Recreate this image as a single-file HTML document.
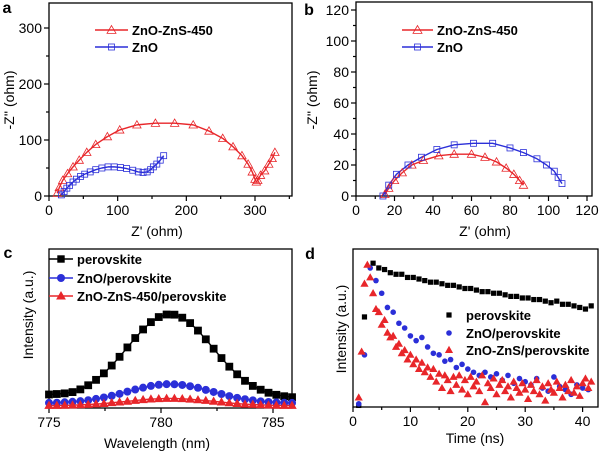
<!DOCTYPE html>
<html><head><meta charset="utf-8"><style>
html,body{margin:0;padding:0;background:#fff;}
svg{display:block;font-family:"Liberation Sans",Arial,sans-serif;}
</style></head><body>
<svg id="fig" width="600" height="452" viewBox="0 0 600 452" xmlns="http://www.w3.org/2000/svg"></svg>
<script>
// ---------- panel a data ----------
const aRedX=[12,15,20,27,35,44,55,68,85,103,128,155,183,210,233,253,268,281,290,296,300,302,304,308,314,320,325,329];
const aRedY=[5,15,28,40,52,64,78,92,106,118,127,130,130,127,116,103,88,72,57,43,30,25,28,37,45,57,67,78];
const aBlueX=[18,22,26,30,35,40,46,52,60,68,77,86,95,104,113,122,130,137,143,148,152,157,162,167];
const aBlueY=[2,8,14,19,25,30,35,39,43,47,50,52,52,51,49,46,43,42,43,47,52,57,64,72];
const aXTicks=[0,100,200,300];
const aYTicks=[0,100,200,300];
// ---------- panel b data ----------
const bRedX=[15,17,20,24,29,35,43,51,60,67,73,78,82,85,87];
const bRedY=[1,5,10,15,20,23,26,27,27,25,22,18,14,10,7];
const bBlueX=[14,17,21,27,34,42,51,61,71,80,87,94,99,103,105,107];
const bBlueY=[0,7,14,20,25,30,33,34,34,31,28,24,20,16,12,8];
const bXTicks=[0,20,40,60,80,100,120];
const bYTicks=[0,20,40,60,80,100,120];
// ---------- panel c data ----------
const cWave=[775.00,775.35,775.70,776.05,776.40,776.75,777.10,777.45,777.80,778.15,778.50,778.85,779.20,779.55,779.90,780.25,780.60,780.95,781.30,781.65,782.00,782.35,782.70,783.05,783.40,783.75,784.10,784.45,784.80,785.15,785.50,785.85];
const cBlack=[0.085,0.088,0.092,0.100,0.117,0.143,0.177,0.218,0.267,0.322,0.381,0.440,0.494,0.540,0.572,0.588,0.587,0.568,0.534,0.487,0.432,0.373,0.314,0.260,0.212,0.171,0.139,0.115,0.096,0.083,0.074,0.068];
const cBlue=[0.032,0.033,0.036,0.039,0.043,0.049,0.057,0.066,0.077,0.089,0.103,0.116,0.128,0.139,0.146,0.150,0.149,0.145,0.137,0.127,0.114,0.101,0.088,0.075,0.064,0.055,0.048,0.042,0.038,0.035,0.033,0.032];
const cRed=[0.016,0.016,0.017,0.018,0.020,0.022,0.025,0.028,0.033,0.037,0.042,0.047,0.052,0.056,0.058,0.060,0.060,0.058,0.055,0.051,0.047,0.042,0.037,0.032,0.028,0.024,0.022,0.020,0.018,0.017,0.016,0.016];
const cXTicks=[775,780,785];
// ---------- panel d data ----------
const dBlackT=[1,2,3.5,4.5,5.5,6.5,7.5,8.5,9.5,10.5,11.5,12.5,13.5,14.5,15.5,16.5,17.5,18.5,19.5,20.5,21.5,22.5,23.5,24.5,25.5,26.5,27.5,28.5,29.5,30.5,31.5,32.5,33.5,34.5,35.5,36.5,37.5,38.5,39.5,40.5,41.5];
const dBlack=[0.01,0.57,0.91,0.88,0.87,0.85,0.84,0.84,0.82,0.82,0.81,0.80,0.79,0.79,0.78,0.77,0.77,0.76,0.75,0.75,0.74,0.73,0.73,0.72,0.72,0.71,0.70,0.70,0.69,0.69,0.68,0.68,0.67,0.66,0.67,0.65,0.65,0.64,0.63,0.62,0.64];
const dBlueT=[1,2,3,4,5,6,7,8,9,10,11,12,13,14,15,16,17,18,19,20,21,22,23,24,25,26,27,28,29,30,31,32,33,34,35,36,37,38,39,40,41];
const dBlue=[0.02,0.33,0.88,0.80,0.72,0.63,0.60,0.53,0.50,0.45,0.42,0.44,0.38,0.34,0.33,0.29,0.30,0.25,0.27,0.24,0.22,0.20,0.22,0.19,0.21,0.17,0.20,0.15,0.18,0.16,0.14,0.18,0.12,0.10,0.19,0.13,0.11,0.08,0.14,0.12,0.11];
const dRedT=[1,1.5,2,2.5,3,3.5,4,4.5,5,5.5,6,6.5,7,7.5,8,8.5,9,9.5,10,10.5,11,11.5,12,12.5,13,13.5,14,14.5,15,15.5,16,16.5,17,17.5,18,18.5,19,19.5,20,20.5,21,21.5,22,22.5,23,23.5,24,24.5,25,25.5,26,26.5,27,27.5,28,28.5,29,29.5,30,30.5,31,31.5,32,32.5,33,33.5,34,34.5,35,35.5,36,36.5,37,37.5,38,38.5,39,39.5,40,40.5,41,41.5];
const dRed=[0.06,0.35,0.78,0.90,0.82,0.72,0.62,0.60,0.52,0.55,0.47,0.44,0.45,0.38,0.40,0.34,0.36,0.30,0.33,0.27,0.30,0.24,0.28,0.22,0.25,0.19,0.24,0.16,0.21,0.12,0.20,0.17,0.10,0.19,0.14,0.20,0.11,0.17,0.08,0.19,0.13,0.16,0.10,0.20,0.03,0.15,0.12,0.18,0.08,0.14,0.17,0.10,0.13,0.06,0.16,0.12,0.09,0.15,0.11,0.05,0.14,0.10,0.17,0.08,0.13,0.04,0.15,0.11,0.09,0.16,0.12,0.06,0.14,0.10,0.17,0.09,0.13,0.07,0.15,0.18,0.12,0.16];
const dXTicks=[0,10,20,30,40];

const NS="http://www.w3.org/2000/svg";
const svg=document.getElementById('fig');
function el(tag,attrs,parent,txt){const e=document.createElementNS(NS,tag);for(const k in attrs)e.setAttribute(k,attrs[k]);if(txt!==undefined)e.textContent=txt;(parent||svg).appendChild(e);return e;}
function scale(d0,d1,r0,r1){return v=>r0+(v-d0)/(d1-d0)*(r1-r0);}
const RED="#e8262a",BLUE="#2b2fd8";

function marker(g,type,x,y,s,color,fill){
  let m;
  if(type==='tri'){m=el('polygon',{points:`${x},${y-s} ${x-s},${y+s*0.75} ${x+s},${y+s*0.75}`,fill:fill||'none',stroke:color,'stroke-width':0.8},g);}
  else if(type==='sq'){m=el('rect',{x:x-s,y:y-s,width:2*s,height:2*s,fill:fill||'none',stroke:color,'stroke-width':0.8},g);}
  else {m=el('circle',{cx:x,cy:y,r:s,fill:fill,stroke:'none'},g);}
  
  
  return m;
}
function frame(name,x0,y0,x1,y1){
  const g=el('g',{});
  
  
  const r=el('rect',{x:x0,y:y0,width:x1-x0,height:y1-y0,fill:'none',stroke:'#000','stroke-width':1.3},g);
  
  
  return g;
}
function xTicks(g,ticks,sx,yb,minors,fmt){
  ticks.forEach(t=>{el('line',{x1:sx(t),x2:sx(t),y1:yb,y2:yb+5,stroke:'#000','stroke-width':1.2},g);
    const tx=el('text',{x:sx(t),y:yb+19,'text-anchor':'middle','font-size':14},g,fmt?fmt(t):t);
    
    });
  minors.forEach(t=>el('line',{x1:sx(t),x2:sx(t),y1:yb,y2:yb+3,stroke:'#000','stroke-width':1.2},g));
}
function yTicks(g,ticks,sy,xl,minors){
  ticks.forEach(t=>{el('line',{x1:xl-5,x2:xl,y1:sy(t),y2:sy(t),stroke:'#000','stroke-width':1.2},g);
    const tx=el('text',{x:xl-7,y:sy(t)+5,'text-anchor':'end','font-size':14},g,t);
    
    });
  minors.forEach(t=>el('line',{x1:xl-3,x2:xl,y1:sy(t),y2:sy(t),stroke:'#000','stroke-width':1.2},g));
}
function label(txt,x,y,rot,name,size,bold){
  const t=el('text',{x:x,y:y,'text-anchor':'middle','font-size':size||14,'font-weight':bold?'bold':'normal',transform:rot?`rotate(-90 ${x} ${y})`:''},svg,txt);
  
  
  return t;
}
function line(g,xs,ys,sx,sy,color,w,name){
  const p=el('polyline',{points:xs.map((x,i)=>sx(x)+','+sy(ys[i])).join(' '),fill:'none',stroke:color,'stroke-width':w||1.4,'stroke-linejoin':'round'},g);
  
  
}
function legendLine(g,x0,x1,y,color,type,text,fill,s){
  const lg=el('g',{},g);
  
  
  el('line',{x1:x0,x2:x1,y1:y,y2:y,stroke:color,'stroke-width':1.6},lg);
  marker(lg,type,(x0+x1)/2,y,s||4.5,color,fill);
  el('text',{x:x1+4,y:y+5,'font-size':13,'font-weight':'bold'},lg,text);
}

// ===== Panel a =====
(function(){
  const x0=49,x1=292,y0=3,y1=196;
  const sx=scale(0,300,49,255), sy=scale(0,300,196,28);
  const g=frame('panel-a',x0,y0,x1,y1);
  xTicks(g,aXTicks,sx,y1,[50,150,250,350]);
  yTicks(g,aYTicks,sy,x0,[50,150,250]);
  line(g,aRedX,aRedY,sx,sy,RED,1.4,'zno-zns-fit-line');
  line(g,aBlueX,aBlueY,sx,sy,BLUE,1.4,'zno-fit-line');
  aRedX.forEach((v,i)=>marker(g,'tri',sx(v),sy(aRedY[i]),4.2,RED));
  aBlueX.forEach((v,i)=>marker(g,'sq',sx(v),sy(aBlueY[i]),3,BLUE));
  legendLine(g,95,128,30,RED,'tri','ZnO-ZnS-450');
  legendLine(g,95,128,47,BLUE,'sq','ZnO',null,3);
  label('a',7,13,false,'panel-label-a',16,true);
  label("-Z'' (ohm)",14,100,true,'y-axis-title-a');
  label("Z' (ohm)",157,236,false,'x-axis-title-a');
})();
// ===== Panel b =====
(function(){
  const x0=356,x1=592,y0=2,y1=196;
  const sx=scale(0,120,356,587), sy=scale(0,120,196,10);
  const g=frame('panel-b',x0,y0,x1,y1);
  xTicks(g,bXTicks,sx,y1,[10,30,50,70,90,110]);
  yTicks(g,bYTicks,sy,x0,[10,30,50,70,90,110]);
  line(g,bRedX,bRedY,sx,sy,RED,1.4,'zno-zns-fit-line');
  line(g,bBlueX,bBlueY,sx,sy,BLUE,1.4,'zno-fit-line');
  bRedX.forEach((v,i)=>marker(g,'tri',sx(v),sy(bRedY[i]),4.2,RED));
  bBlueX.forEach((v,i)=>marker(g,'sq',sx(v),sy(bBlueY[i]),3,BLUE));
  legendLine(g,402,433,30,RED,'tri','ZnO-ZnS-450');
  legendLine(g,402,433,47,BLUE,'sq','ZnO',null,3);
  label('b',309,15,false,'panel-label-b',16,true);
  label("-Z'' (ohm)",317,100,true,'y-axis-title-b');
  label("Z' (ohm)",485,236,false,'x-axis-title-b');
})();
// ===== Panel c =====
(function(){
  const x0=49,x1=292,y0=249,y1=408;
  const sx=scale(775,780,49,161), sy=scale(0,1,408,249);
  const g=frame('panel-c',x0,y0,x1,y1);
  xTicks(g,cXTicks,sx,y1,[777.5,782.5]);
  line(g,cWave,cRed,sx,sy,RED,1.4,'zno-zns-perovskite-line');
  line(g,cWave,cBlue,sx,sy,BLUE,1.4,'zno-perovskite-line');
  line(g,cWave,cBlack,sx,sy,'#000',1.4,'perovskite-line');
  cWave.forEach((v,i)=>marker(g,'sq',sx(v),sy(cBlack[i]),3.5,'#000','#000'));
  cWave.forEach((v,i)=>marker(g,'circ',sx(v),sy(cBlue[i]),4,BLUE,BLUE));
  cWave.forEach((v,i)=>marker(g,'tri',sx(v),sy(cRed[i]),4,RED,RED));
  legendLine(g,49,73,259,'#000','sq','perovskite','#000',3.3);
  legendLine(g,49,73,278,BLUE,'circ','ZnO/perovskite',BLUE,4);
  legendLine(g,49,73,296,RED,'tri','ZnO-ZnS-450/perovskite',RED,4.2);
  label('c',8,258,false,'panel-label-c',16,true);
  label('Intensity (a.u.)',33,315,true,'y-axis-title-c');
  label('Wavelength (nm)',157,448,false,'x-axis-title-c');
})();
// ===== Panel d =====
(function(){
  const x0=353,x1=598,y0=249,y1=407;
  const sx=scale(0,10,353,410.4), sy=scale(0,1,407,249);
  const g=frame('panel-d',x0,y0,x1,y1);
  xTicks(g,dXTicks,sx,y1,[5,15,25,35]);
  dBlackT.forEach((v,i)=>marker(g,'sq',sx(v),sy(dBlack[i]),2.2,'#000','#000'));
  dBlueT.forEach((v,i)=>marker(g,'circ',sx(v),sy(dBlue[i]),2.8,BLUE,BLUE));
  dRedT.forEach((v,i)=>marker(g,'tri',sx(v),sy(dRed[i]),3.4,RED,RED));
  const lg=[['sq','#000','perovskite',315,2.2],['circ',BLUE,'ZnO/perovskite',333,2.8],['tri',RED,'ZnO-ZnS/perovskite',350,3.4]];
  lg.forEach(r=>{const e=el('g',{},g);
    
    
    marker(e,r[0],449,r[3],r[4],r[1],r[1]);
    el('text',{x:466,y:r[3]+5,'font-size':13,'font-weight':'bold'},e,r[2]);});
  label('d',310,259,false,'panel-label-d',16,true);
  label('Intensity (a.u.)',346,329,true,'y-axis-title-d');
  label('Time (ns)',475,443,false,'x-axis-title-d');
})();
</script>
</body></html>
